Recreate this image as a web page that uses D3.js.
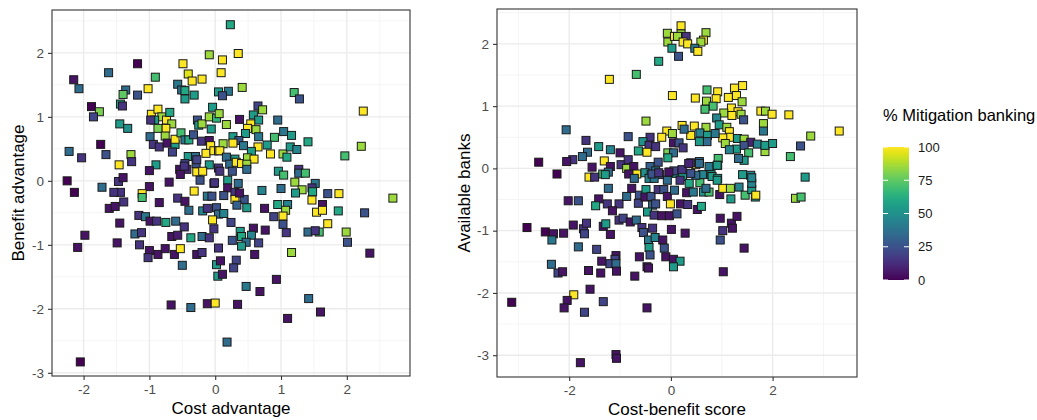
<!DOCTYPE html>
<html>
<head>
<meta charset="utf-8">
<script src="https://cdn.jsdelivr.net/npm/d3@7"></script>
<style>
  body { margin: 0; background: #fff; }
  text { font-family: "Liberation Sans", Arial, sans-serif; }
</style>
</head>
<body>
<div id="chart"></div>
<script>
// [x, y, % mitigation banking]
const costBenefitPoints = [
  [-0.09,1.97,85],[-0.49,1.83,100],[-1.18,1.83,0],[-1.62,1.69,35],[-0.41,1.67,95],[-0.35,1.56,100],[-0.2,1.59,100],[-0.91,1.62,70],
  [-2.15,1.58,5],[-2.07,1.44,35],[-0.57,1.51,40],[-0.51,1.42,35],[-0.46,1.41,60],[-0.32,1.34,55],[-0.46,1.28,55],[-1.02,1.44,100],
  [-1.18,1.34,25],[-1.36,1.42,35],[-1.4,1.35,75],[-1.44,1.2,60],[-1.41,1.17,15],[-1.88,1.16,0],[-1.76,1.08,80],[-1.85,1.0,20],
  [-1.45,0.89,55],[-1.33,0.82,50],[-0.97,1.04,100],[-0.87,1.12,100],[-0.81,1.0,85],[-0.74,0.95,100],[-0.69,1.07,60],[-0.92,0.95,55],
  [-0.98,0.95,15],[-0.66,0.89,85],[-0.75,0.82,100],[-0.87,0.82,80],[-0.76,0.7,85],[-0.99,0.69,35],[-0.94,0.57,15],[-0.85,0.53,15],
  [-0.73,0.59,5],[-0.61,0.57,55],[-0.61,0.65,100],[-0.52,0.75,70],[-0.46,0.64,40],[-0.4,0.64,60],[-0.33,0.72,25],[-0.27,0.95,25],
  [-0.25,0.87,55],[-0.2,0.89,85],[-0.09,1.0,85],[-0.04,1.15,55],[0.02,0.98,65],[-0.06,0.81,55],[-0.21,0.62,15],[-0.09,0.63,5],
  [-0.07,0.55,100],[-0.14,0.43,100],[-0.02,0.47,100],[0.05,0.47,100],[-0.41,0.38,55],[-0.3,0.38,35],[-0.09,0.25,55],[0.05,0.2,15],
  [-0.46,0.27,20],[-0.29,0.27,25],[-0.54,0.18,5],[-0.43,0.18,10],[-0.53,0.1,5],[-0.28,0.14,100],[-0.19,0.15,100],[-0.02,-0.04,5],
  [-0.65,0.45,20],[-0.9,0.25,55],[-1.0,0.16,5],[-1.46,0.25,100],[-1.28,0.41,85],[-1.27,0.3,15],[-1.66,0.41,25],[-1.74,0.57,0],
  [-2.22,0.46,35],[-2.03,0.36,15],[-2.25,0.0,0],[-2.14,-0.18,0],[-1.72,-0.1,35],[-1.47,-0.01,15],[-1.4,0.05,5],[-1.44,-0.18,15],
  [-1.54,-0.18,15],[-1.0,-0.09,5],[-0.7,-0.02,5],[-1.11,-0.2,100],[-0.32,-0.16,100],
  [0.23,2.44,60],[0.35,1.99,100],[0.11,1.89,100],[0.09,1.69,100],[0.05,1.39,55],[0.2,1.4,40],[0.11,1.33,25],[0.41,1.46,85],
  [1.2,1.38,70],[1.28,1.28,25],[2.25,1.09,100],[0.65,1.17,20],[0.72,1.11,85],[0.37,0.96,5],[0.58,1.03,55],[0.66,0.95,55],
  [0.95,0.95,35],[0.54,0.89,100],[0.49,0.82,100],[0.62,0.8,85],[0.17,0.88,85],[0.06,1.05,85],[1.04,0.77,40],[1.16,0.71,55],
  [0.9,0.68,70],[0.79,0.56,55],[0.65,0.53,100],[0.66,0.69,40],[0.46,0.74,55],[0.27,0.69,55],[0.36,0.63,25],[0.27,0.59,100],
  [0.12,0.58,85],[0.43,0.55,40],[0.55,0.46,55],[0.84,0.42,100],[1.03,0.42,85],[1.09,0.37,60],[1.14,0.53,55],[1.24,0.49,45],
  [1.41,0.61,60],[1.97,0.39,70],[2.22,0.54,85],[0.07,0.47,100],[0.17,0.37,35],[0.3,0.34,55],[0.22,0.26,35],[0.32,0.29,100],
  [0.4,0.27,100],[0.49,0.36,85],[0.59,0.34,100],[0.48,0.26,85],[0.48,0.18,35],[0.07,0.15,15],[0.26,0.15,25],[0.19,0.01,55],
  [0.35,-0.04,35],[0.19,-0.11,5],[0.3,-0.18,15],[0.96,0.15,55],[1.04,0.09,70],[1.27,0.18,15],[1.27,0.12,35],[1.37,0.12,70],
  [1.21,-0.02,85],[1.52,-0.04,40],[1.47,-0.11,15],[1.32,-0.14,85],[1.48,-0.17,60],[1.0,-0.12,35],[0.71,-0.15,45],[1.22,-0.19,55],
  [1.71,-0.2,25],[1.88,-0.2,100],[2.7,-0.27,85],
  [-1.11,-0.26,70],[-1.39,-0.33,15],[-1.61,-0.43,5],[-1.52,-0.4,5],[-0.85,-0.34,5],[-0.57,-0.27,15],[-0.46,-0.32,5],[-0.4,-0.46,35],
  [-0.12,-0.24,40],[-0.05,-0.24,25],[-0.19,-0.47,45],[-0.12,-0.43,15],[0.02,-0.42,25],[0.05,-0.52,35],[-0.04,-0.61,100],[-0.02,-0.75,15],
  [-1.16,-0.54,15],[-1.06,-0.56,40],[-0.99,-0.63,5],[-0.89,-0.63,15],[-0.75,-0.65,60],[-0.6,-0.63,35],[-0.47,-0.72,15],[-1.45,-0.66,5],
  [-1.98,-0.85,5],[-2.09,-1.04,5],[-1.49,-0.97,5],[-1.22,-0.83,35],[-1.12,-0.81,15],[-1.15,-1.0,15],[-1.0,-1.09,5],[-1.02,-1.2,15],
  [-0.87,-1.15,5],[-0.76,-1.06,5],[-0.66,-0.87,5],[-0.57,-0.85,8],[-0.62,-1.15,5],[-0.53,-1.06,100],[-0.37,-0.89,60],[-0.2,-0.87,35],
  [-0.09,-0.89,15],[-0.28,-1.15,5],[-0.2,-1.12,15],[0.05,-1.05,15],[-0.5,-1.32,35],[0.02,-1.31,55],[0.04,-1.49,55],[-0.67,-1.94,5],
  [-0.37,-1.98,35],[-0.12,-1.92,5],[0.0,-1.91,100],[-2.05,-2.83,0],
  [0.13,-0.23,25],[0.3,-0.29,100],[0.44,-0.29,25],[0.33,-0.38,30],[0.48,-0.42,55],[0.13,-0.51,45],[0.24,-0.65,20],[0.75,-0.43,5],
  [0.89,-0.56,20],[0.95,-0.37,60],[1.1,-0.37,45],[1.07,-0.46,85],[1.03,-0.55,100],[1.03,-0.68,25],[1.08,-0.81,15],[1.47,-0.3,100],
  [1.63,-0.37,5],[1.54,-0.49,100],[1.63,-0.46,100],[1.71,-0.67,100],[1.87,-0.47,60],[2.27,-0.5,25],[1.41,-0.8,35],[1.58,-0.8,70],
  [1.52,-0.78,15],[1.99,-0.8,85],[2.01,-0.96,25],[2.35,-1.13,5],[1.16,-1.12,85],[0.58,-0.74,5],[0.76,-0.77,5],[0.38,-0.79,55],
  [0.4,-0.87,60],[0.55,-0.85,45],[0.47,-0.96,35],[0.4,-1.02,55],[0.66,-0.97,20],[0.26,-0.93,25],[0.6,-1.15,5],[0.08,-1.25,5],
  [0.32,-1.24,20],[0.28,-1.36,20],[0.11,-1.46,5],[0.93,-1.54,5],[0.47,-1.65,40],[0.68,-1.73,5],[0.34,-1.93,5],[1.42,-1.84,35],
  [1.6,-2.05,5],[1.1,-2.15,5],[0.18,-2.52,35],
  [-0.47,0.23,15],[-0.28,0.33,20],[-0.23,0.01,25],[-0.01,-0.03,15],[0.37,-0.19,5]
]

const scoreBanksPoints = [
  [-0.07,2.17,85],[-0.06,2.03,85],[0.07,2.12,100],[0.02,1.93,55],[-0.24,1.72,60],[-0.68,1.51,70],[-1.21,1.43,100],[0.03,1.17,100],
  [-0.49,0.76,85],[-0.08,0.6,100],[-0.18,0.5,100],[0.03,0.56,85],[-2.06,0.62,35],[-0.84,0.51,25],[-0.41,0.5,15],[-0.55,0.43,50],
  [-0.43,0.37,15],[-0.3,0.35,15],[0.05,0.41,5],[-1.67,0.45,15],[-1.42,0.35,55],[-1.64,0.26,35],[-1.74,0.19,35],[-1.19,0.3,45],
  [-1.0,0.25,5],[-0.64,0.28,60],[-0.47,0.26,100],[-0.06,0.25,80],[0.05,0.25,35],[-0.06,0.17,60],[-0.25,0.1,25],[-0.41,0.03,30],
  [-1.93,0.14,15],[-2.05,0.11,5],[-2.6,0.1,0],[-2.24,-0.09,0],[-1.31,0.12,100],[-1.55,0.02,5],[-1.19,0.03,5],[-0.98,0.06,15],
  [-0.84,0.14,15],[-0.87,0.0,85],[-0.73,0.03,5],[-0.67,-0.09,100],[-0.83,-0.09,5],[-0.51,-0.07,50],[-0.3,-0.04,40],[-0.39,-0.1,45],
  [-0.22,-0.1,25],[-0.02,-0.06,25],[-1.61,-0.14,100],[-1.34,-0.09,70],[-1.5,-0.14,15],[-1.23,-0.06,35],[-1.29,-0.1,55],
  [0.2,2.29,100],[0.2,2.16,85],[0.3,2.12,15],[0.13,2.12,85],[0.24,2.03,100],[0.33,2.0,100],[0.69,2.18,85],[0.64,2.06,100],
  [0.59,2.03,85],[0.47,1.93,40],[0.53,1.88,100],[0.15,1.8,25],[0.71,1.26,70],[0.92,1.23,100],[1.25,1.29,100],[1.41,1.33,100],
  [0.48,1.13,100],[0.7,1.08,85],[0.89,1.12,100],[1.13,1.14,100],[1.29,1.17,100],[1.4,1.07,85],[0.83,1.0,70],[0.67,0.95,70],
  [1.19,0.97,100],[1.04,0.89,85],[1.32,0.91,100],[1.2,0.85,100],[1.38,0.87,85],[1.43,0.78,25],[1.77,0.92,100],[1.86,0.92,85],
  [1.99,0.87,100],[2.32,0.86,100],[0.9,0.81,45],[0.22,0.69,100],[0.46,0.68,100],[0.69,0.66,85],[0.95,0.7,55],[1.1,0.66,85],
  [1.15,0.59,100],[1.15,0.5,100],[1.02,0.49,100],[1.07,0.4,85],[0.39,0.53,100],[0.57,0.57,45],[0.72,0.53,55],[0.87,0.56,40],
  [0.26,0.63,35],[0.71,0.43,35],[0.56,0.43,55],[0.16,0.41,25],[0.24,0.33,15],[1.31,0.48,55],[1.44,0.47,85],[1.29,0.31,55],
  [1.15,0.3,45],[1.57,0.42,10],[1.7,0.39,45],[1.44,0.37,25],[1.53,0.25,70],[1.44,0.13,55],[1.33,0.16,35],[1.85,0.27,85],
  [1.85,0.37,55],[2.0,0.4,55],[1.82,0.72,85],[1.82,0.6,40],[2.55,0.36,25],[2.75,0.52,85],[3.31,0.6,100],[2.35,0.19,70],
  [0.93,0.16,70],[0.92,0.05,85],[0.49,0.06,100],[0.39,0.09,15],[0.56,0.11,35],[0.62,-0.1,45],[0.79,-0.1,55],[0.22,-0.03,70],
  [1.41,-0.1,55],[1.57,-0.11,45],[2.64,-0.14,55],
  [-1.23,-0.32,35],[-1.42,-0.49,5],[-1.48,-0.6,60],[-2.02,-0.52,5],[-1.82,-0.52,25],[-1.25,-0.57,15],[-1.02,-0.57,15],[-1.15,-0.68,5],
  [-0.87,-0.45,35],[-0.77,-0.32,5],[-0.62,-0.43,25],[-0.49,-0.34,55],[-0.64,-0.56,20],[-0.51,-0.46,5],[-0.39,-0.45,25],[-0.36,-0.59,35],
  [-0.3,-0.57,25],[-0.25,-0.34,15],[-0.14,-0.34,25],[-0.07,-0.45,5],[-0.01,-0.57,100],[0.07,-0.35,35],[0.19,-0.57,5],[0.33,-0.58,15],
  [0.31,-0.39,5],[0.44,-0.38,40],[0.52,-0.66,5],[0.6,-0.61,60],[0.64,-0.38,50],[0.75,-0.38,70],[0.96,-0.42,5],[1.02,-0.32,100],
  [1.17,-0.32,85],[1.18,-0.49,55],[1.34,-0.3,45],[1.46,-0.43,70],[1.59,-0.34,55],[1.66,-0.46,55],[1.67,-0.43,100],[1.59,-0.24,45],
  [1.59,-0.15,45],[2.45,-0.48,85],[2.56,-0.46,70],
  [-2.83,-0.95,0],[-2.47,-1.02,0],[-2.31,-1.05,5],[-2.34,-1.15,40],[-2.11,-1.04,5],[-1.92,-0.91,5],[-1.72,-0.97,15],[-1.7,-1.05,20],
  [-1.66,-0.88,15],[-1.82,-1.26,35],[-1.46,-1.3,20],[-1.33,-0.93,5],[-1.28,-0.89,55],[-1.19,-1.06,5],[-1.02,-0.83,15],[-0.94,-0.8,20],
  [-0.8,-0.86,5],[-0.68,-0.83,35],[-0.57,-0.95,15],[-0.54,-1.03,25],[-0.36,-0.96,15],[-0.46,-0.7,55],[-0.33,-0.75,15],[-0.18,-0.76,5],
  [-0.03,-0.76,5],[0.12,-0.73,25],[0.01,-0.98,5],[0.28,-1.04,5],[-0.44,-1.15,40],[-0.31,-1.11,45],[-0.43,-1.27,55],[-0.41,-1.39,25],
  [-0.16,-1.15,5],[-0.13,-1.28,25],[-0.1,-1.42,5],[0.05,-1.46,5],[0.18,-1.49,55],[0.05,-1.58,55],[-0.62,-1.42,5],[-0.47,-1.58,5],
  [-0.44,-1.6,5],[0.97,-0.8,5],[1.02,-1.0,15],[0.97,-1.15,25],[1.19,-0.88,5],[1.21,-0.96,5],[1.3,-0.77,5],[1.44,-1.28,5],
  [1.03,-1.66,5],[-1.08,-1.4,5],[-1.1,-1.46,20],[-1.2,-1.53,20],[-1.08,-1.53,35],[-1.36,-1.49,5],[-1.07,-1.65,5],[-1.38,-1.68,5],
  [-1.62,-1.64,5],[-0.71,-1.73,5],[-2.35,-1.54,35],[-2.22,-1.68,20],[-2.13,-1.66,5],[-1.59,-1.94,5],[-1.91,-2.03,100],[-2.04,-2.12,5],
  [-2.1,-2.24,5],[-1.33,-2.14,20],[-1.7,-2.31,20],[-0.47,-2.24,5],[-3.13,-2.15,0],[-1.08,-2.99,5],[-1.07,-3.05,5],[-1.78,-3.12,5],
  [0.1,-0.08,55],[0.23,-0.13,55],[0.36,-0.24,60],[0.57,-0.23,70],[0.69,-0.32,35],[0.81,-0.13,55],[0.92,-0.16,55],[0.49,-0.11,35],
  [-0.72,-0.16,35],[-0.43,-0.16,45],[-0.33,-0.16,40],[-0.07,-0.19,35],[0.18,-0.19,15],[0.06,-0.04,20],[0.22,-0.02,15],[0.35,0.08,10],
  [0.39,-0.08,25],[0.56,0.08,35],[0.75,0.03,40],[0.91,0.05,55],[0.91,-0.19,55],[-0.37,-0.09,25],[-0.24,-0.07,15],[-0.04,-0.06,5]
]

const leftXTicks = [-2, -1, 0, 1, 2]
const leftYTicks = [-3, -2, -1, 0, 1, 2]
const rightXTicks = [-2, 0, 2]
const rightYTicks = [-3, -2, -1, 0, 1, 2]
const legendTicks = [0, 25, 50, 75, 100]

const width = 1037
const height = 420

const svg = d3.select("#chart")
    .append("svg")
    .attr("width", width)
    .attr("height", height)

const color = d3.scaleSequential(d3.interpolateViridis).domain([0, 100])

function minor_ticks(ticks) {
    // halfway between majors, plus one step beyond each end
    const step = ticks[1] - ticks[0]
    const out = []
    for (let i = -1; i < ticks.length; i++) {
        out.push(ticks[0] + step * i + step / 2)
    }
    return out
}

function scatter_panel(points, box, xDomain, yDomain, xTicks, yTicks, xTitle, yTitle) {
    const x = d3.scaleLinear().domain(xDomain).range([box.left, box.right])
    const y = d3.scaleLinear().domain(yDomain).range([box.bottom, box.top])
    const inX = v => v >= xDomain[0] && v <= xDomain[1]
    const inY = v => v >= yDomain[0] && v <= yDomain[1]

    const g = svg.append("g")

    // minor grid
    g.append("g").selectAll("line")
        .data(minor_ticks(xTicks).filter(inX))
        .enter().append("line")
        .attr("x1", d => x(d)).attr("x2", d => x(d))
        .attr("y1", box.top).attr("y2", box.bottom)
        .attr("stroke", "#F2F2F2").attr("stroke-width", 0.8)
    g.append("g").selectAll("line")
        .data(minor_ticks(yTicks).filter(inY))
        .enter().append("line")
        .attr("y1", d => y(d)).attr("y2", d => y(d))
        .attr("x1", box.left).attr("x2", box.right)
        .attr("stroke", "#F2F2F2").attr("stroke-width", 0.8)

    // major grid
    g.append("g").selectAll("line")
        .data(xTicks)
        .enter().append("line")
        .attr("x1", d => x(d)).attr("x2", d => x(d))
        .attr("y1", box.top).attr("y2", box.bottom)
        .attr("stroke", "#EBEBEB").attr("stroke-width", 1.4)
    g.append("g").selectAll("line")
        .data(yTicks)
        .enter().append("line")
        .attr("y1", d => y(d)).attr("y2", d => y(d))
        .attr("x1", box.left).attr("x2", box.right)
        .attr("stroke", "#EBEBEB").attr("stroke-width", 1.4)

    // points
    const s = 8
    g.append("g").selectAll("rect")
        .data(points)
        .enter().append("rect")
        .attr("x", d => x(d[0]) - s / 2)
        .attr("y", d => y(d[1]) - s / 2)
        .attr("width", s)
        .attr("height", s)
        .attr("fill", d => color(d[2]))
        .attr("stroke", "#1a1a1a")
        .attr("stroke-width", 1)

    // panel border
    g.append("rect")
        .attr("x", box.left).attr("y", box.top)
        .attr("width", box.right - box.left)
        .attr("height", box.bottom - box.top)
        .attr("fill", "none")
        .attr("stroke", "#333333")
        .attr("stroke-width", 1.1)

    // Add X axis
    const xAxis = g.append("g")
        .attr("transform", `translate(0,${box.bottom})`)
        .call(d3.axisBottom(x).tickValues(xTicks).tickSize(4).tickPadding(4).tickFormat(d => String(d)))
    // Add Y axis
    const yAxis = g.append("g")
        .attr("transform", `translate(${box.left},0)`)
        .call(d3.axisLeft(y).tickValues(yTicks).tickSize(4).tickPadding(4).tickFormat(d => String(d)))

    ;[xAxis, yAxis].forEach(a => {
        a.select(".domain").remove()
        a.selectAll(".tick line").attr("stroke", "#333333").attr("stroke-width", 1.1)
        a.selectAll(".tick text")
            .attr("fill", "#4D4D4D")
            .style("font-size", "13.5px")
            .style("font-family", "'Liberation Sans', Arial, sans-serif")
    })

    // axis titles
    g.append("text")
        .attr("x", (box.left + box.right) / 2)
        .attr("y", box.bottom + 38)
        .attr("text-anchor", "middle")
        .style("font-size", "17px")
        .text(xTitle)

    g.append("text")
        .attr("transform", `translate(${box.yTitleX},${(box.top + box.bottom) / 2}) rotate(-90)`)
        .attr("text-anchor", "middle")
        .style("font-size", "17px")
        .text(yTitle)
}

scatter_panel(costBenefitPoints,
    { left: 52, right: 410, top: 10, bottom: 376, yTitleX: 24 },
    [-2.48, 2.96], [-3.05, 2.67], leftXTicks, leftYTicks,
    "Cost advantage", "Benefit advantage")

scatter_panel(scoreBanksPoints,
    { left: 497, right: 857, top: 9, bottom: 377, yTitleX: 470 },
    [-3.42, 3.66], [-3.35, 2.56], rightXTicks, rightYTicks,
    "Cost-benefit score", "Available banks")

// Add legend
const legend = svg.append("g")
const barTop = 147
const barBottom = 280
const barLeft = 883
const barWidth = 26

legend.append("text")
    .attr("x", barLeft)
    .attr("y", 121)
    .style("font-size", "16.5px")
    .text("% Mitigation banking")

const defs = svg.append("defs")
const grad = defs.append("linearGradient")
    .attr("id", "viridis")
    .attr("x1", 0).attr("y1", 1).attr("x2", 0).attr("y2", 0)
d3.range(0, 1.0001, 0.05).forEach(t => {
    grad.append("stop")
        .attr("offset", t)
        .attr("stop-color", d3.interpolateViridis(t))
})

const legendY = d3.scaleLinear().domain([0, 100]).range([barBottom, barTop])

legend.append("rect")
    .attr("x", barLeft)
    .attr("y", barTop)
    .attr("width", barWidth)
    .attr("height", barBottom - barTop)
    .attr("fill", "url(#viridis)")

legend.selectAll(".lt-left")
    .data(legendTicks)
    .enter().append("line")
    .attr("x1", barLeft).attr("x2", barLeft + 5)
    .attr("y1", d => legendY(d)).attr("y2", d => legendY(d))
    .attr("stroke", "#fff").attr("stroke-width", 1)
legend.selectAll(".lt-right")
    .data(legendTicks)
    .enter().append("line")
    .attr("x1", barLeft + barWidth - 5).attr("x2", barLeft + barWidth)
    .attr("y1", d => legendY(d)).attr("y2", d => legendY(d))
    .attr("stroke", "#fff").attr("stroke-width", 1)

legend.selectAll(".lab")
    .data(legendTicks)
    .enter().append("text")
    .attr("x", barLeft + barWidth + 9)
    .attr("y", d => legendY(d))
    .attr("dy", "0.35em")
    .attr("fill", "#1a1a1a")
    .style("font-size", "13px")
    .text(d => d)
</script>
</body>
</html>
